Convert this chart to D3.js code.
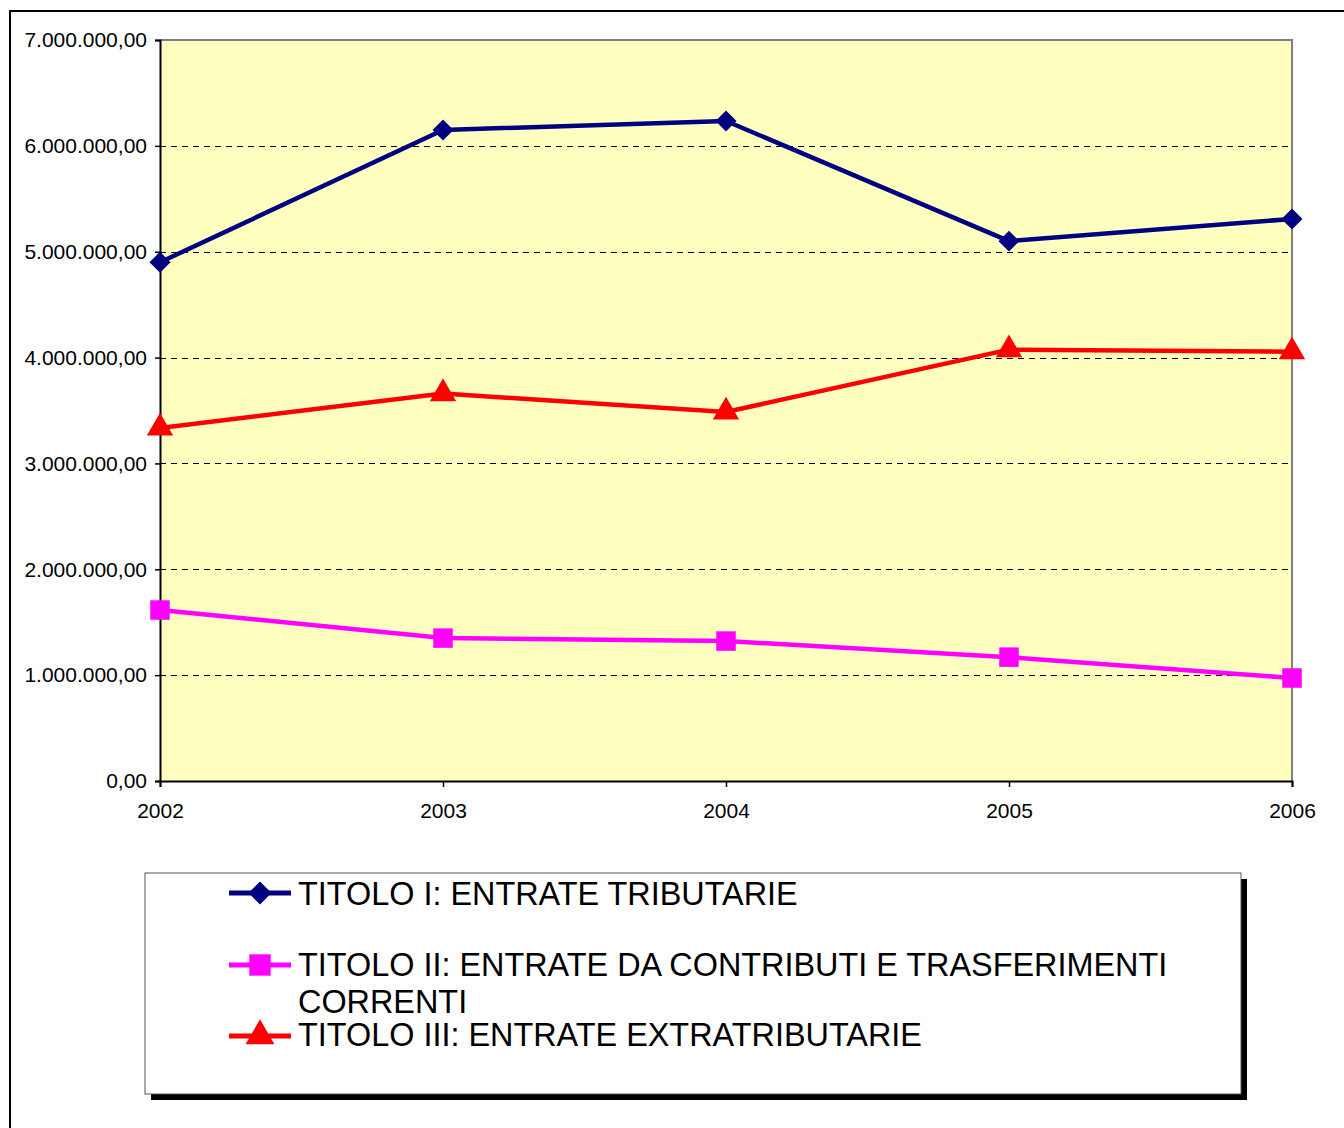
<!DOCTYPE html>
<html>
<head>
<meta charset="utf-8">
<script src="https://cdn.jsdelivr.net/npm/d3@7"></script>
<style>
  html, body { margin: 0; padding: 0; background: #fff; }
  svg { display: block; font-family: "Liberation Sans", Arial, sans-serif; }
</style>
</head>
<body>
<svg id="chart" width="1344" height="1128"></svg>
<script>
const years = ["2002", "2003", "2004", "2005", "2006"];
const titolo1 = [4900000, 6150000, 6235000, 5100000, 5310000];
const titolo2 = [1615000, 1350000, 1322000, 1170000, 973000];
const titolo3 = [3335000, 3660000, 3486000, 4075000, 4055000];
const yTicks = [0, 1000000, 2000000, 3000000, 4000000, 5000000, 6000000, 7000000];
const seriesNames = [
  ["TITOLO I: ENTRATE TRIBUTARIE"],
  ["TITOLO II: ENTRATE DA CONTRIBUTI E TRASFERIMENTI", "CORRENTI"],
  ["TITOLO III: ENTRATE EXTRATRIBUTARIE"]
];
const seriesColors = ["#000080", "#FF00FF", "#FF0000"];

const svg = d3.select("#chart");
const pL = 160, pR = 1292, pT = 40, pB = 781;

const it = d3.formatLocale({decimal: ",", thousands: ".", grouping: [3], currency: ["€", ""]});
const fmt = it.format(",.2f");

const x = d3.scalePoint().domain(years).range([pL, pR]);
const y = d3.scaleLinear().domain([0, 7000000]).range([pB, pT]);

// marker shapes: rotated square (diamond), square, triangle
const markers = [
  {type: d3.symbolSquare, size: 220, rot: 45},
  {type: d3.symbolSquare, size: 380, rot: 0},
  {type: d3.symbolTriangle, size: 300, rot: 0}
];
const series = [titolo1, titolo2, titolo3].map((vals, i) => ({
  values: vals, name: seriesNames[i], color: seriesColors[i], marker: markers[i]
}));

// outer frame
svg.append("rect").attr("x", 10).attr("y", 11).attr("width", 1400).attr("height", 1200)
  .attr("fill", "none").attr("stroke", "#000").attr("stroke-width", 2);

// plot area
svg.append("rect").attr("x", pL).attr("y", pT).attr("width", pR - pL).attr("height", pB - pT)
  .attr("fill", "#FFFFC0");

// gridlines
svg.append("g").selectAll("line").data(yTicks.filter(d => d > 0 && d < 7000000)).join("line")
  .attr("x1", pL).attr("x2", pR)
  .attr("y1", d => Math.round(y(d)) + 0.5).attr("y2", d => Math.round(y(d)) + 0.5)
  .attr("stroke", "#000").attr("stroke-width", 1).attr("stroke-dasharray", "6,5");

// plot border top/right grey
svg.append("path").attr("d", `M${pL},${pT}H${pR}V${pB}`)
  .attr("fill", "none").attr("stroke", "#808080").attr("stroke-width", 2);

// y axis
const yAxis = d3.axisLeft(y).tickValues(yTicks).tickFormat(fmt).tickSize(5).tickPadding(8);
const gy = svg.append("g").attr("transform", `translate(${pL},0)`).call(yAxis);
gy.select(".domain").attr("stroke", "#000").attr("stroke-width", 2);
gy.selectAll(".tick line").attr("stroke", "#000").attr("stroke-width", 1.5);
gy.selectAll("text").attr("font-size", 21).attr("fill", "#000")
  .attr("font-family", '"Liberation Sans", Arial, sans-serif');

// x axis
const xAxis = d3.axisBottom(x).tickSize(6).tickPadding(16);
const gx = svg.append("g").attr("transform", `translate(0,${pB})`).call(xAxis);
gx.select(".domain").attr("stroke", "#000").attr("stroke-width", 2);
gx.selectAll(".tick line").attr("stroke", "#000").attr("stroke-width", 1.5);
gx.selectAll("text").attr("font-size", 21).attr("fill", "#000")
  .attr("font-family", '"Liberation Sans", Arial, sans-serif');

// lines
const line = d3.line().x((d, i) => x(years[i])).y(d => y(d));
series.forEach((s) => {
  svg.append("path").datum(s.values).attr("d", line)
    .attr("fill", "none").attr("stroke", s.color).attr("stroke-width", 4.5)
    .attr("stroke-linejoin", "round");
  svg.append("g").selectAll("path").data(s.values).join("path")
    .attr("transform", (d, i) => `translate(${x(years[i])},${y(d)}) rotate(${s.marker.rot})`)
    .attr("d", d3.symbol().type(s.marker.type).size(s.marker.size))
    .attr("fill", s.color);
});

// legend
const lgX = 145, lgY = 873, lgW = 1096, lgH = 221;
svg.append("rect").attr("x", lgX + 6).attr("y", lgY + 6).attr("width", lgW).attr("height", lgH).attr("fill", "#000");
svg.append("rect").attr("x", lgX).attr("y", lgY).attr("width", lgW).attr("height", lgH)
  .attr("fill", "#fff").attr("stroke", "#555").attr("stroke-width", 1);

const rowY = [893, 965, 1036];
const rowBase = [905, 976, 1046];
series.forEach((s, si) => {
  const g = svg.append("g");
  g.append("line").attr("x1", 229).attr("x2", 291).attr("y1", rowY[si]).attr("y2", rowY[si])
    .attr("stroke", s.color).attr("stroke-width", 5);
  g.append("path").attr("transform", `translate(260,${rowY[si]}) rotate(${s.marker.rot})`)
    .attr("d", d3.symbol().type(s.marker.type).size(s.marker.size * 1.2)).attr("fill", s.color);
  const t = g.append("text").attr("x", 298).attr("y", rowBase[si]).attr("font-size", 32.4).attr("fill", "#000");
  s.name.forEach((ln, li) => {
    t.append("tspan").attr("x", 298).attr("dy", li === 0 ? 0 : 37).text(ln);
  });
});
</script>
</body>
</html>
